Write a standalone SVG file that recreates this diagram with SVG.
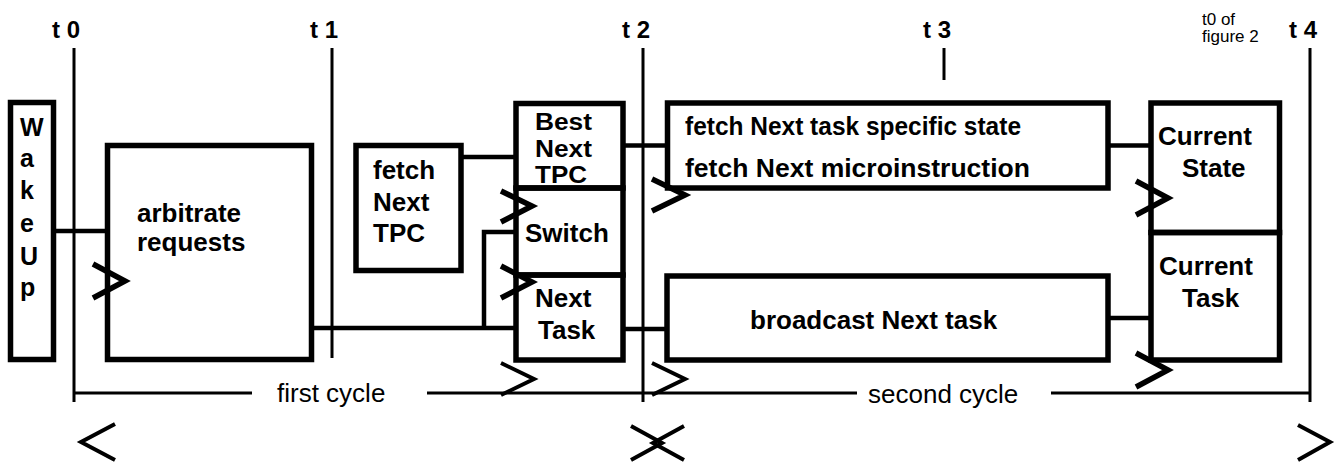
<svg xmlns="http://www.w3.org/2000/svg" width="1337" height="464" viewBox="0 0 1337 464">
<style>
.box{fill:none;stroke:#000;stroke-width:5.5}
.con{fill:none;stroke:#000;stroke-width:4.5}
.thin{fill:none;stroke:#000;stroke-width:3}
.clk{fill:none;stroke:#000;stroke-width:5.5;stroke-linejoin:miter}
.mk{fill:none;stroke:#000;stroke-width:4;stroke-linejoin:miter}
.lb{font-family:"Liberation Sans",Arial,Helvetica,sans-serif;font-weight:bold;font-size:26px;fill:#000}
.tl{font-family:"Liberation Sans",Arial,Helvetica,sans-serif;font-weight:bold;font-size:24px;fill:#000}
.cy{font-family:"Liberation Sans",Arial,Helvetica,sans-serif;font-size:26px;fill:#000}
.sm{font-family:"Liberation Sans",Arial,Helvetica,sans-serif;font-size:17px;fill:#000}
</style>
<rect x="0" y="0" width="1337" height="464" fill="#fff"/>
<g id="timeline">
<text class="tl" x="52" y="38">t 0</text>
<text class="tl" x="310" y="38">t 1</text>
<text class="tl" x="622" y="38">t 2</text>
<text class="tl" x="923" y="38">t 3</text>
<text class="tl" x="1289" y="38">t 4</text>
<text class="sm" x="1202" y="25">t0 of</text>
<text class="sm" x="1202" y="42">figure 2</text>
<line class="thin" x1="74" y1="48" x2="74" y2="402"/>
<line class="thin" x1="332" y1="48" x2="332" y2="358"/>
<line class="thin" x1="643" y1="48" x2="643" y2="402"/>
<line class="thin" x1="944" y1="48" x2="944" y2="80"/>
<line class="thin" x1="1310" y1="48" x2="1310" y2="402"/>
<line class="thin" x1="74" y1="393" x2="252" y2="393"/>
<line class="thin" x1="427" y1="393" x2="643" y2="393"/>
<line class="thin" x1="643" y1="393" x2="857" y2="393"/>
<line class="thin" x1="1051" y1="393" x2="1310" y2="393"/>
<text class="cy" x="277" y="402">first cycle</text>
<text class="cy" x="868" y="403">second cycle</text>
<polyline class="mk" points="115,424 81,442 115,460"/>
<polyline class="mk" points="631,426 662,443 631,460"/>
<polyline class="mk" points="684,426 653,443 684,460"/>
<polyline class="mk" points="1298,425 1330,442 1298,460"/>
</g>
<g id="wakeup">
<rect class="box" x="10.5" y="102.5" width="43" height="257"/>
<text class="lb" style="font-size:25px"><tspan x="20" y="136">W</tspan><tspan x="20" y="167">a</tspan><tspan x="20" y="199">k</tspan><tspan x="20" y="232">e</tspan><tspan x="20" y="265">U</tspan><tspan x="20" y="296">p</tspan></text>
</g>
<g id="arbitrate">
<rect class="box" x="107.5" y="145.5" width="204" height="214"/>
<text class="lb" x="137" y="222">arbitrate</text>
<text class="lb" x="137" y="251">requests</text>
<polyline class="clk" points="93,264 125,281 93,298"/>
</g>
<g id="fetchNextTPC">
<rect class="box" x="356" y="145.5" width="105" height="125"/>
<text class="lb" x="373" y="179">fetch</text>
<text class="lb" x="373" y="211">Next</text>
<text class="lb" x="373" y="242">TPC</text>
</g>
<g id="bestNextTPC">
<rect class="box" x="516" y="103.5" width="107" height="84.5"/>
<text class="lb" style="font-size:23px" x="535" y="130" textLength="57" lengthAdjust="spacingAndGlyphs">Best</text>
<text class="lb" style="font-size:23px" x="535" y="157" textLength="57" lengthAdjust="spacingAndGlyphs">Next</text>
<text class="lb" style="font-size:23px" x="535" y="183" textLength="52" lengthAdjust="spacingAndGlyphs">TPC</text>
</g>
<g id="switch">
<rect class="box" x="516" y="188" width="107" height="87"/>
<text class="lb" x="525" y="242">Switch</text>
<polyline class="clk" points="501,191 532,206 501,222"/>
</g>
<g id="nextTask">
<rect class="box" x="516" y="275" width="107" height="85"/>
<text class="lb" x="535" y="307">Next</text>
<text class="lb" x="538" y="339">Task</text>
<polyline class="clk" points="501,266 532,282 501,298"/>
<polyline class="mk" points="501,363 534,379 501,395"/>
</g>
<g id="fetchState">
<rect class="box" x="667.5" y="103" width="440.5" height="85"/>
<text class="lb" x="685" y="135" textLength="336" lengthAdjust="spacingAndGlyphs">fetch Next task specific state</text>
<text class="lb" x="685" y="177" textLength="345" lengthAdjust="spacingAndGlyphs">fetch Next microinstruction</text>
<polyline class="clk" points="652,179 685,195 652,211"/>
</g>
<g id="broadcast">
<rect class="box" x="667" y="276" width="441" height="84"/>
<text class="lb" x="750" y="329">broadcast Next task</text>
<polyline class="mk" points="652,363 685,379 652,395"/>
</g>
<g id="currentState">
<rect class="box" x="1151" y="103" width="128.5" height="129.5"/>
<text class="lb" x="1158" y="145">Current</text>
<text class="lb" x="1182" y="177">State</text>
<polyline class="clk" points="1136,181 1168,198 1136,215"/>
</g>
<g id="currentTask">
<rect class="box" x="1151" y="232.5" width="128.5" height="127.5"/>
<text class="lb" x="1159" y="275">Current</text>
<text class="lb" x="1182" y="307">Task</text>
<polyline class="clk" points="1136,353 1168,370 1136,387"/>
</g>
<g id="connectors">
<line class="con" x1="53" y1="231" x2="108" y2="231"/>
<line class="con" x1="461" y1="157" x2="516" y2="157"/>
<line class="con" x1="311" y1="328" x2="516" y2="328"/>
<polyline class="con" points="484,328 484,232 516,232"/>
<line class="con" x1="623" y1="145.5" x2="667" y2="145.5"/>
<line class="con" x1="623" y1="329" x2="667" y2="329"/>
<line class="con" x1="1108" y1="145.5" x2="1151" y2="145.5"/>
<line class="con" x1="1108" y1="318" x2="1151" y2="318"/>
</g>
</svg>
